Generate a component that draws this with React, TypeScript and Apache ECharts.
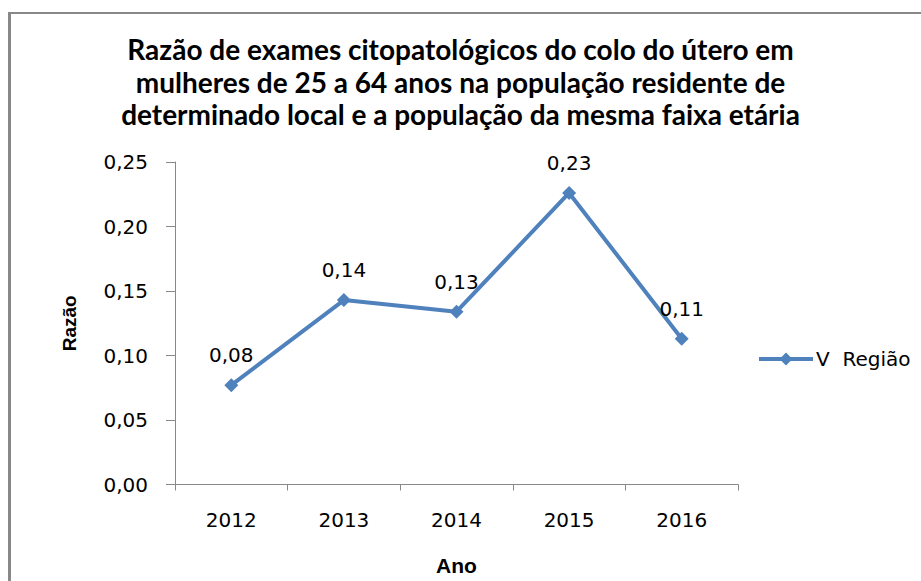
import React, { useEffect, useRef } from "react";
import * as echarts from "echarts";

const years = ["2012", "2013", "2014", "2015", "2016"];
const seriesName = "V  Região";
const values = [0.077, 0.143, 0.134, 0.226, 0.113];
const titleLines = [
  "Razão de exames citopatológicos do colo do útero em",
  "mulheres de 25 a 64 anos na população residente de",
  "determinado local e a população da mesma faixa etária",
];
const yAxisName = "Razão";
const xAxisName = "Ano";

const fmt = (v: number) => v.toFixed(2).replace(".", ",");

export default function App() {
  const ref = useRef<HTMLDivElement>(null);
  useEffect(() => {
    if (!ref.current) return;
    const chart = echarts.init(ref.current, null, { renderer: "svg" });
    const axisGray = "#888888";
    const blue = "#4F81BD";
    chart.setOption({
      animation: false,
      backgroundColor: "#ffffff",
      title: {
        text: titleLines.join("\n"),
        left: "center",
        top: 28,
        textStyle: {
          fontFamily: "Lato",
          fontWeight: "bold",
          fontSize: 28,
          lineHeight: 32.5,
          color: "#000",
        },
      },
      legend: {
        left: 752,
        top: 344,
        itemWidth: 54,
        itemHeight: 16,
        itemGap: 0,
        lineStyle: { width: 4 },
        textStyle: { fontFamily: "DejaVu Sans", fontSize: 20, color: "#000", padding: [0, 0, 0, -2] },
        data: [{ name: seriesName }],
      },
      grid: { left: 175, top: 162, right: 183, bottom: 96.5, containLabel: false },
      xAxis: {
        type: "category",
        data: years,
        boundaryGap: true,
        name: xAxisName,
        nameLocation: "middle",
        nameGap: 70,
        nameTextStyle: { fontFamily: "Liberation Sans", fontWeight: "bold", fontSize: 21, color: "#000" },
        axisLine: { lineStyle: { color: axisGray, width: 1 } },
        axisTick: { show: true, alignWithLabel: false, length: 6, lineStyle: { color: axisGray } },
        axisLabel: { margin: 25, fontFamily: "DejaVu Sans", fontSize: 20, color: "#000" },
        splitLine: { show: false },
      },
      yAxis: {
        type: "value",
        min: 0,
        max: 0.25,
        interval: 0.05,
        name: yAxisName,
        nameLocation: "middle",
        nameGap: 96,
        nameRotate: 90,
        nameTextStyle: { fontFamily: "Liberation Sans", fontWeight: "bold", fontSize: 19, color: "#000" },
        axisLine: { show: true, lineStyle: { color: axisGray, width: 1 } },
        axisTick: { show: true, length: 9, lineStyle: { color: axisGray } },
        axisLabel: {
          margin: 27,
          fontFamily: "DejaVu Sans",
          fontSize: 20,
          color: "#000",
          formatter: (v: number) => fmt(v),
        },
        splitLine: { show: false },
      },
      series: [
        {
          name: seriesName,
          type: "line",
          data: values,
          symbol: "diamond",
          symbolSize: 14,
          lineStyle: { color: blue, width: 4 },
          itemStyle: { color: blue },
          label: {
            show: true,
            position: "top",
            distance: 13,
            fontFamily: "DejaVu Sans",
            fontSize: 20,
            color: "#000",
            formatter: (p: any) => fmt(p.value),
          },
        },
      ],
      graphic: [
        { type: "line", shape: { x1: 9.5, y1: 12, x2: 9.5, y2: 600 }, style: { stroke: "#888888", lineWidth: 3 } },
        { type: "line", shape: { x1: 8, y1: 13, x2: 930, y2: 13 }, style: { stroke: "#888888", lineWidth: 2 } },
      ],
    });
    return () => chart.dispose();
  }, []);
  return (
    <div
      ref={ref}
      style={{ position: "fixed", left: 0, top: 0, width: 921, height: 581 }}
    />
  );
}
